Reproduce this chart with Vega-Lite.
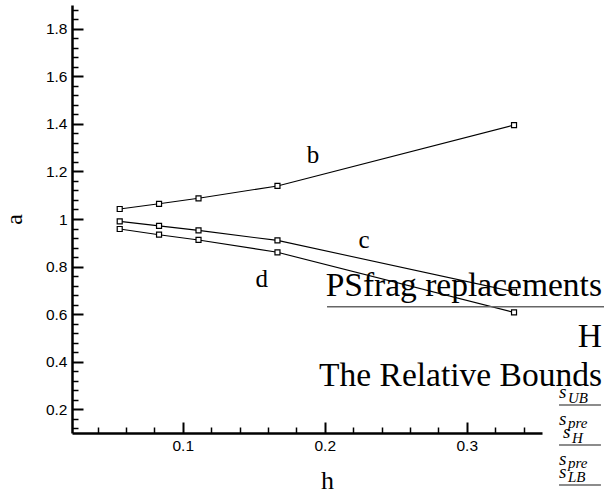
{
  "$schema": "https://vega.github.io/schema/vega-lite/v6.json",
  "autosize": {"type": "none"},
  "width": 470,
  "height": 428,
  "padding": {"left": 72, "top": 5, "right": 62, "bottom": 63},
  "background": "white",
  "config": {"view": {"stroke": null}},
  "datasets": {
    "bounds": [
      {"series": "b", "h": 0.0556, "a": 1.042},
      {"series": "b", "h": 0.0833, "a": 1.064},
      {"series": "b", "h": 0.1111, "a": 1.087},
      {"series": "b", "h": 0.1667, "a": 1.139},
      {"series": "b", "h": 0.3333, "a": 1.395},
      {"series": "c", "h": 0.0556, "a": 0.990},
      {"series": "c", "h": 0.0833, "a": 0.971},
      {"series": "c", "h": 0.1111, "a": 0.952},
      {"series": "c", "h": 0.1667, "a": 0.910},
      {"series": "c", "h": 0.3333, "a": 0.694},
      {"series": "d", "h": 0.0556, "a": 0.958},
      {"series": "d", "h": 0.0833, "a": 0.934},
      {"series": "d", "h": 0.1111, "a": 0.912},
      {"series": "d", "h": 0.1667, "a": 0.860},
      {"series": "d", "h": 0.3333, "a": 0.607}
    ],
    "curveLabels": [
      {"text": "b", "h": 0.1917, "a": 1.2355},
      {"text": "c", "h": 0.2276, "a": 0.878},
      {"text": "d", "h": 0.1556, "a": 0.714}
    ],
    "bigText": [
      {"text": "PSfrag replacements", "h": 0.3952, "a": 0.676},
      {"text": "H", "h": 0.3952, "a": 0.4617},
      {"text": "The Relative Bounds", "h": 0.3952, "a": 0.2977}
    ],
    "fracBase": [
      {"text": "s", "h": 0.365, "a": 0.2472},
      {"text": "s", "h": 0.365, "a": 0.1337},
      {"text": "s", "h": 0.3678, "a": 0.079},
      {"text": "s", "h": 0.365, "a": -0.0346},
      {"text": "s", "h": 0.365, "a": -0.0892}
    ],
    "fracSub": [
      {"text": "UB", "h": 0.3713, "a": 0.2262},
      {"text": "pre", "h": 0.3713, "a": 0.121},
      {"text": "H", "h": 0.3741, "a": 0.0579},
      {"text": "pre", "h": 0.3713, "a": -0.0472},
      {"text": "LB", "h": 0.3713, "a": -0.106}
    ],
    "bars": [
      {"h": 0.2016, "h2": 0.3967, "a": 0.6312},
      {"h": 0.365, "h2": 0.3945, "a": 0.2178},
      {"h": 0.365, "h2": 0.3945, "a": 0.0496},
      {"h": 0.365, "h2": 0.3945, "a": -0.1187}
    ]
  },
  "encoding": {
    "x": {
      "field": "h",
      "type": "quantitative",
      "scale": {"domain": [0.022, 0.353], "nice": false, "zero": false},
      "axis": {
        "title": "h",
        "titleFont": "Liberation Serif",
        "titleFontSize": 26,
        "titleFontWeight": "normal",
        "titleColor": "black",
        "titleBaseline": "alphabetic",
        "titleX": 255,
        "titleY": 55,
        "values": [0.04, 0.06, 0.08, 0.1, 0.12, 0.14, 0.16, 0.18, 0.2, 0.22, 0.24, 0.26, 0.28, 0.3, 0.32, 0.34],
        "labelExpr": "abs(datum.value * 10 - round(datum.value * 10)) < 0.001 ? format(datum.value, '.1~f') : ''",
        "labelOverlap": false,
        "labelFont": "Liberation Sans",
        "labelFontSize": 15.5,
        "labelColor": "black",
        "labelPadding": 16,
        "labelFlush": false,
        "grid": false,
        "domainColor": "black",
        "domainWidth": 2.5,
        "tickColor": "black",
        "tickSize": {"condition": {"test": "abs(datum.value * 10 - round(datum.value * 10)) < 0.001", "value": -11}, "value": -6},
        "tickWidth": {"condition": {"test": "abs(datum.value * 10 - round(datum.value * 10)) < 0.001", "value": 2}, "value": 1.5}
      }
    },
    "y": {
      "field": "a",
      "type": "quantitative",
      "scale": {"domain": [0.1, 1.9], "nice": false, "zero": false},
      "axis": {
        "title": "a",
        "titleFont": "Liberation Serif",
        "titleFontSize": 24,
        "titleFontWeight": "normal",
        "titleColor": "black",
        "titleAngle": -90,
        "titleBaseline": "alphabetic",
        "titleX": -51,
        "titleY": 214,
        "values": [0.12, 0.16, 0.2, 0.24, 0.28, 0.32, 0.36, 0.4, 0.44, 0.48, 0.52, 0.56, 0.6, 0.64, 0.68, 0.72, 0.76, 0.8, 0.84, 0.88, 0.92, 0.96, 1, 1.04, 1.08, 1.12, 1.16, 1.2, 1.24, 1.28, 1.32, 1.36, 1.4, 1.44, 1.48, 1.52, 1.56, 1.6, 1.64, 1.68, 1.72, 1.76, 1.8, 1.84, 1.88],
        "labelExpr": "abs(datum.value * 5 - round(datum.value * 5)) < 0.001 ? format(datum.value, '.1~f') : ''",
        "labelOverlap": false,
        "labelFont": "Liberation Sans",
        "labelFontSize": 15.5,
        "labelColor": "black",
        "labelPadding": 16,
        "labelFlush": false,
        "grid": false,
        "domainColor": "black",
        "domainWidth": 2.5,
        "tickColor": "black",
        "tickSize": {"condition": {"test": "abs(datum.value * 5 - round(datum.value * 5)) < 0.001", "value": -11}, "value": -6},
        "tickWidth": {"condition": {"test": "abs(datum.value * 5 - round(datum.value * 5)) < 0.001", "value": 2}, "value": 1.5}
      }
    }
  },
  "layer": [
    {
      "data": {"name": "bounds"},
      "mark": {"type": "line", "color": "black", "strokeWidth": 1.1},
      "encoding": {"detail": {"field": "series"}}
    },
    {
      "data": {"name": "bounds"},
      "mark": {"type": "point", "shape": "square", "size": 25, "filled": true, "fill": "white", "stroke": "black", "strokeWidth": 1.2, "opacity": 1}
    },
    {
      "data": {"name": "curveLabels"},
      "mark": {"type": "text", "font": "Liberation Serif", "fontSize": 25, "align": "center", "baseline": "alphabetic", "color": "black"},
      "encoding": {"text": {"field": "text"}}
    },
    {
      "data": {"name": "bigText"},
      "mark": {"type": "text", "font": "Liberation Serif", "fontSize": 33.5, "align": "right", "baseline": "alphabetic", "color": "black"},
      "encoding": {"text": {"field": "text"}}
    },
    {
      "data": {"name": "fracBase"},
      "mark": {"type": "text", "font": "Liberation Serif", "fontStyle": "italic", "fontSize": 19, "align": "left", "baseline": "alphabetic", "color": "black"},
      "encoding": {"text": {"field": "text"}}
    },
    {
      "data": {"name": "fracSub"},
      "mark": {"type": "text", "font": "Liberation Serif", "fontStyle": "italic", "fontSize": 15, "align": "left", "baseline": "alphabetic", "color": "black"},
      "encoding": {"text": {"field": "text"}}
    },
    {
      "data": {"name": "bars"},
      "mark": {"type": "rule", "color": "#666666", "strokeWidth": 1.6},
      "encoding": {"x2": {"field": "h2"}}
    }
  ]
}
